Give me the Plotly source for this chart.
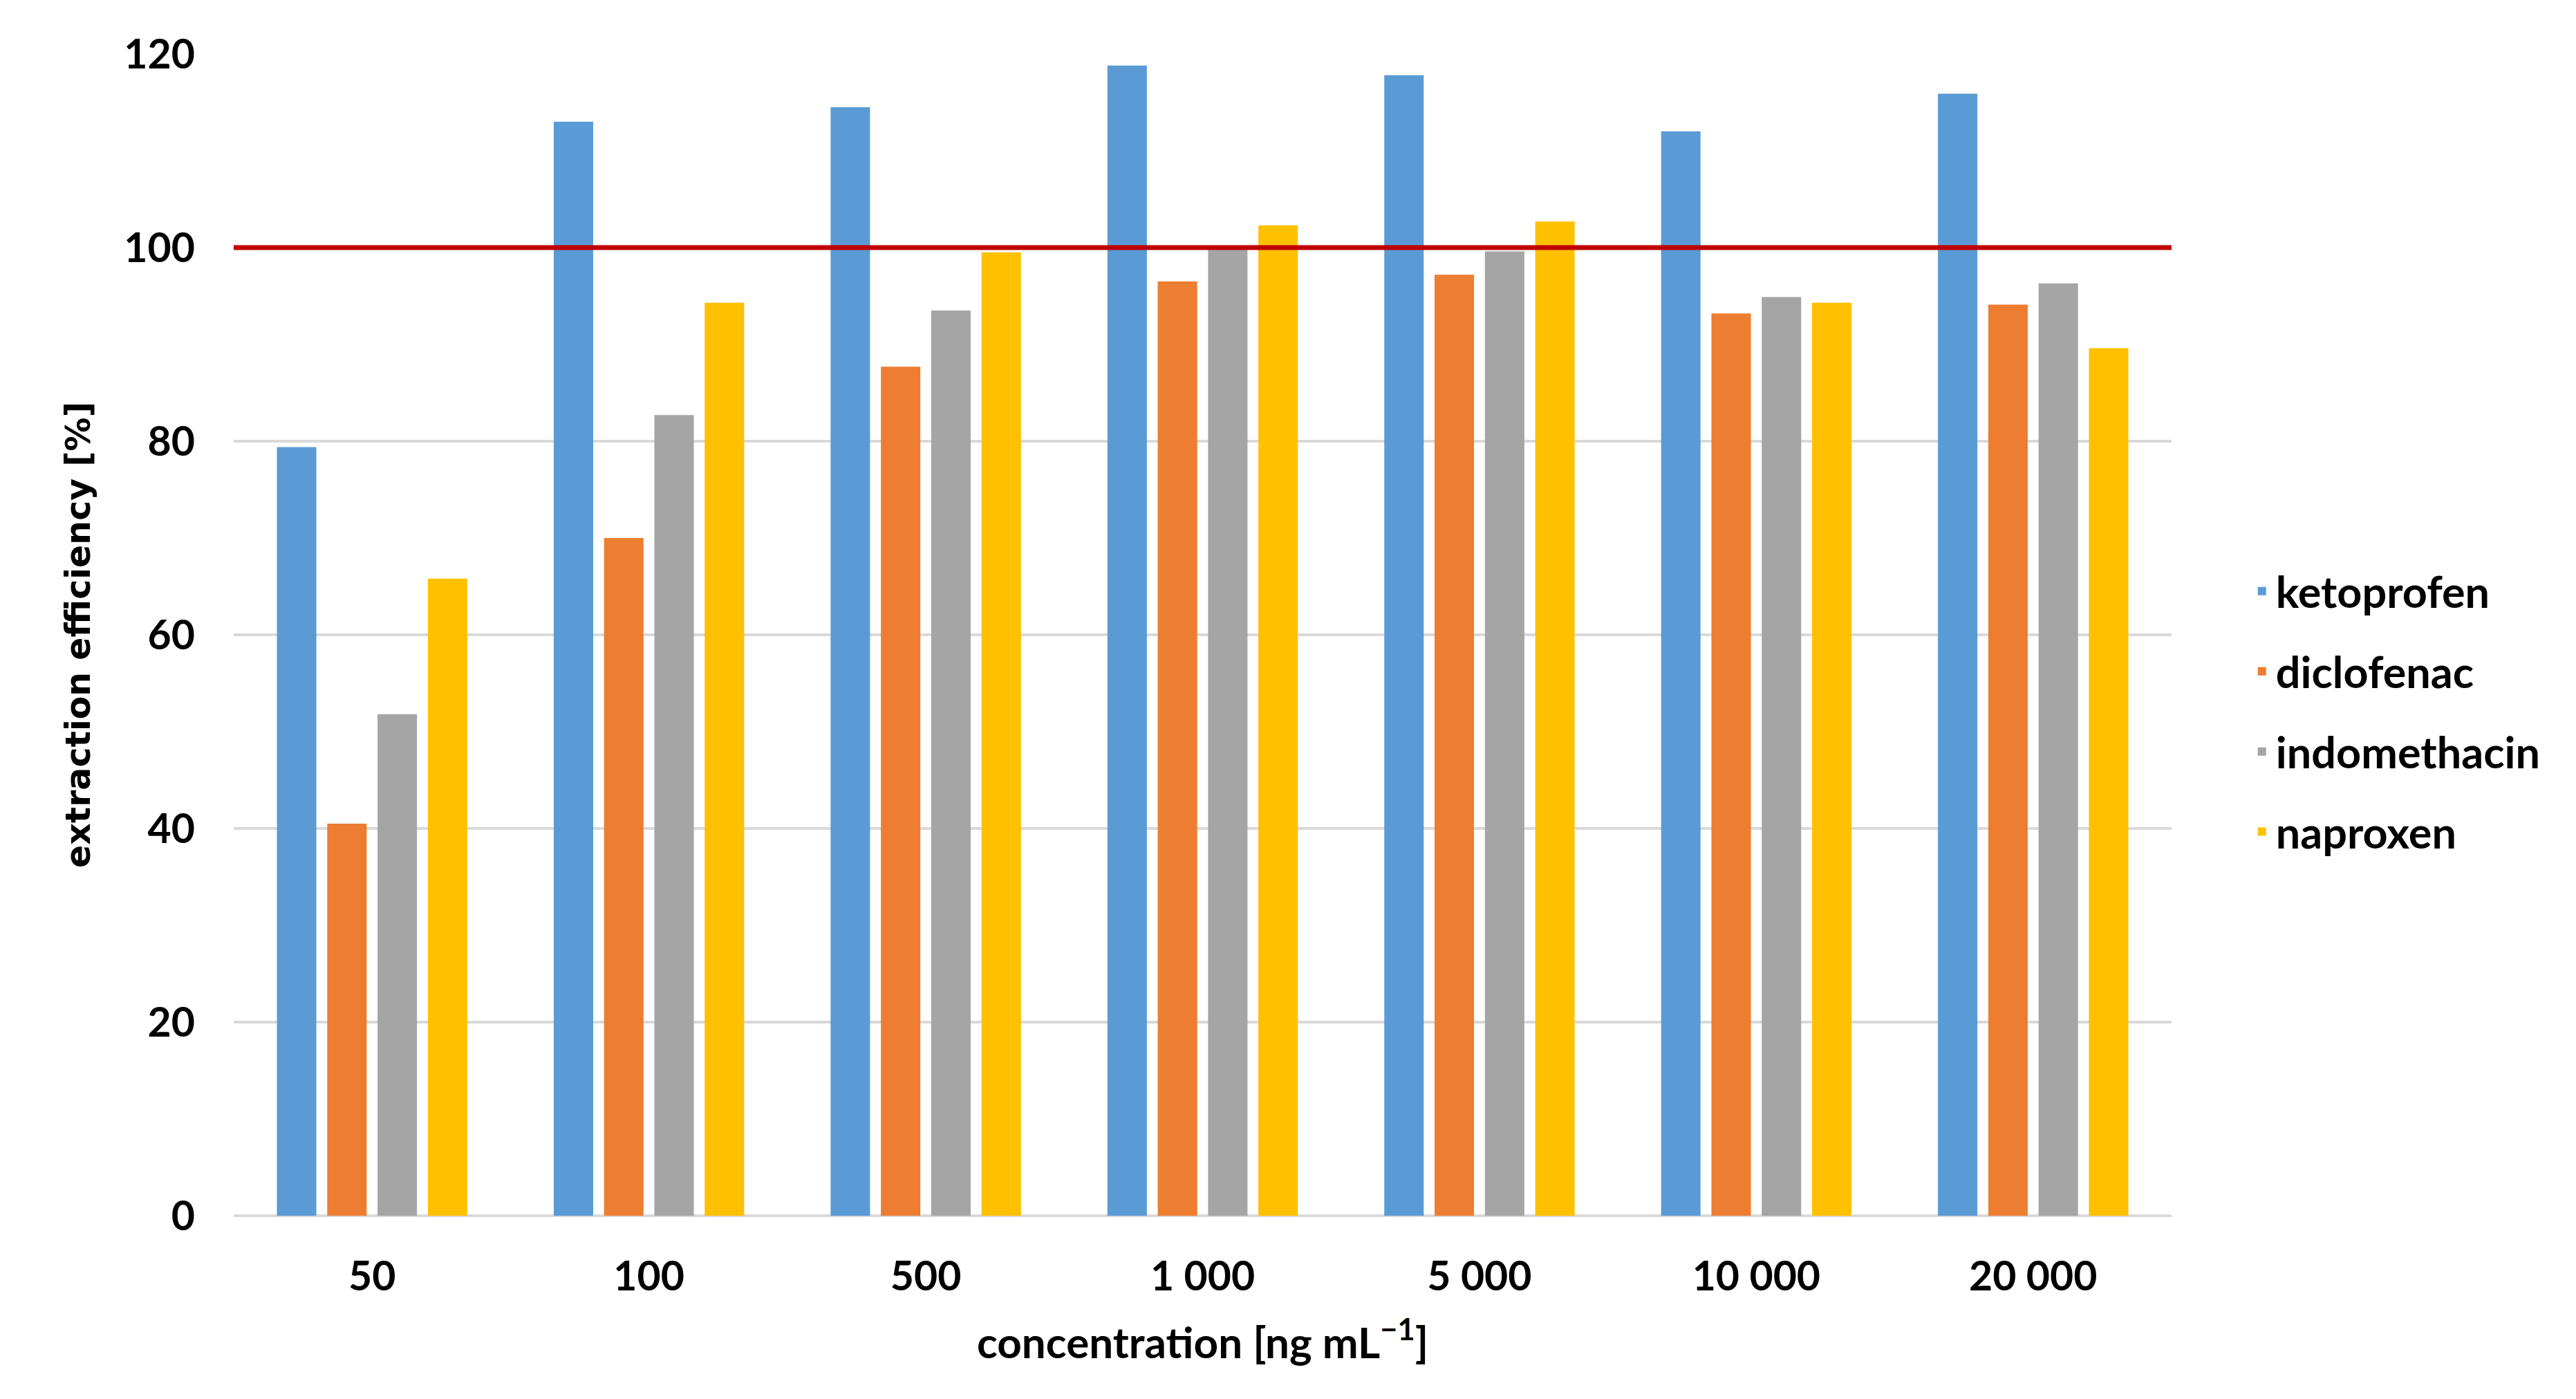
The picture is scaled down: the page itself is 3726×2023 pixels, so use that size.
import plotly.graph_objects as go

categories = ["50", "100", "500", "1 000", "5 000", "10 000", "20 000"]
ketoprofen = [79.4, 113.0, 114.5, 118.8, 117.8, 112.0, 115.9]
diclofenac = [40.5, 70.0, 87.7, 96.5, 97.2, 93.2, 94.1]
indomethacin = [51.8, 82.7, 93.5, 100.1, 99.6, 94.9, 96.3]
naproxen = [65.8, 94.3, 99.5, 102.3, 102.7, 94.3, 89.6]
series_names = ["ketoprofen", "diclofenac", "indomethacin", "naproxen"]
series_values = [ketoprofen, diclofenac, indomethacin, naproxen]
colors = ["#5B9BD5", "#ED7D31", "#A5A5A5", "#FFC000"]
reference_level = 100
y_ticks = [0, 20, 40, 60, 80, 100, 120]

font_main = "Lato"
fig = go.Figure()
for name, vals, col in zip(series_names, series_values, colors):
    fig.add_trace(go.Bar(x=categories, y=vals, name=name, marker_color=col,
                         marker_line_width=0, legendgroup=name))

fig.add_hline(y=reference_level, line_color="#C00000", line_width=7, layer="above")

fig.update_layout(
    width=3710, height=2007,
    margin=dict(l=330, r=577, t=70, b=257),
    plot_bgcolor="white", paper_bgcolor="white",
    barmode="group", bargap=0.273, bargroupgap=0.216,
    font=dict(family=font_main, size=58, color="black", weight="bold"),
    legend=dict(x=1.0395, y=0.434, xanchor="left", yanchor="middle",
                font=dict(family=font_main, size=63, color="black", weight="bold"),
                tracegroupgap=31, itemwidth=30),
    showlegend=True,
)
fig.update_xaxes(
    title=dict(text="concentration [ng mL<sup>−1</sup>]", standoff=42,
               font=dict(family=font_main, size=62, weight="bold")),
    tickfont=dict(family=font_main, size=59, weight="bold"),
    ticklabelstandoff=48, showgrid=False, showline=False, zeroline=False,
)
fig.update_yaxes(
    range=[0, 120], tickvals=y_ticks,
    title=dict(text="extraction efficiency [%]", standoff=33,
               font=dict(family="DejaVu Sans", size=49, weight="bold")),
    tickfont=dict(family=font_main, size=59, weight="bold"),
    ticklabelstandoff=55,
    showgrid=True, gridcolor="#D9D9D9", gridwidth=4,
    zeroline=True, zerolinecolor="#D9D9D9", zerolinewidth=4,
    showline=False,
)

fig.write_html("out.html")
